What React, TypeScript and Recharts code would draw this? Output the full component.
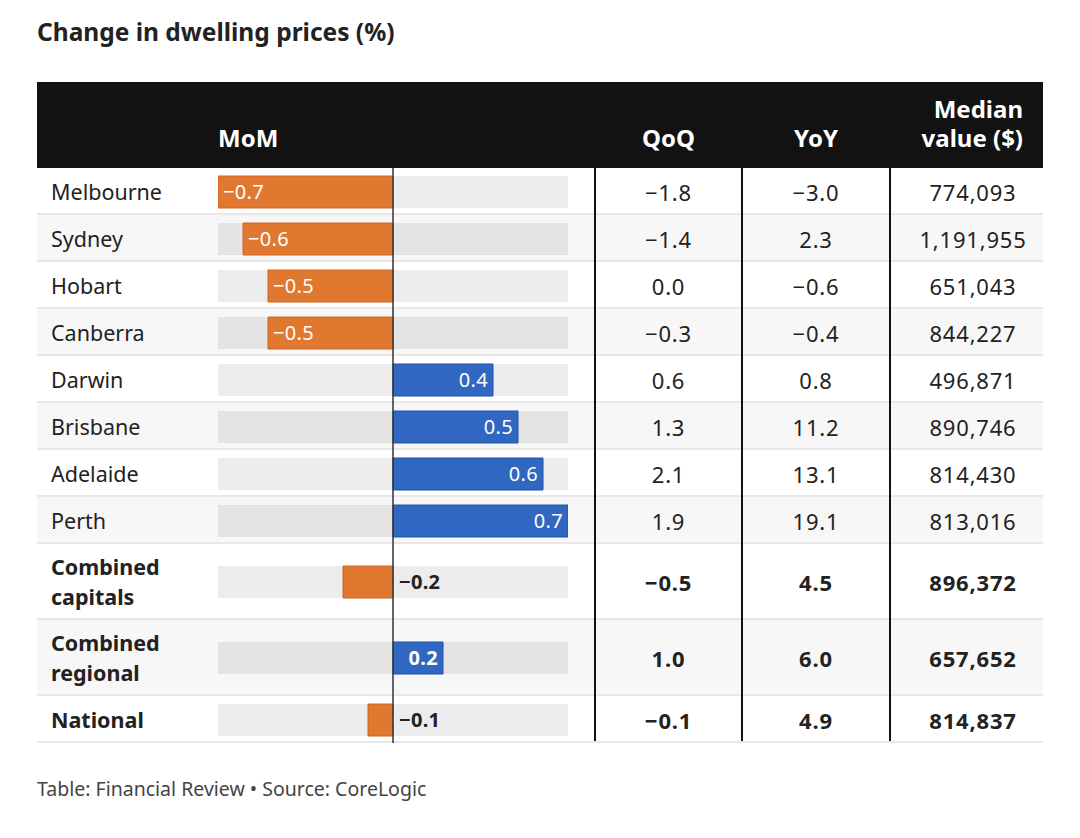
import React from 'react';
import { BarChart, Bar, XAxis, YAxis, ReferenceLine } from 'recharts';

const regions = ['Melbourne', 'Sydney', 'Hobart', 'Canberra', 'Darwin', 'Brisbane', 'Adelaide', 'Perth', 'Combined capitals', 'Combined regional', 'National'];
const momChange = [-0.7, -0.6, -0.5, -0.5, 0.4, 0.5, 0.6, 0.7, -0.2, 0.2, -0.1];
const qoqChange = [-1.8, -1.4, 0.0, -0.3, 0.6, 1.3, 2.1, 1.9, -0.5, 1.0, -0.1];
const yoyChange = [-3.0, 2.3, -0.6, -0.4, 0.8, 11.2, 13.1, 19.1, 4.5, 6.0, 4.9];
const medianValue = [774093, 1191955, 651043, 844227, 496871, 890746, 814430, 813016, 896372, 657652, 814837];
const summaryRows = ['Combined capitals', 'Combined regional', 'National'];
const headers = ['MoM', 'QoQ', 'YoY', 'Median value ($)'];
const title = 'Change in dwelling prices (%)';
const footer = 'Table: Financial Review • Source: CoreLogic';

const FONT = '"Noto Sans", "Open Sans", sans-serif';
const NEG = '#e07830';
const NEG_STROKE = '#d06622';
const POS = '#2f67c1';
const POS_STROKE = '#1f52a8';

const TABLE_LEFT = 37;
const TABLE_RIGHT = 1043;
const HEADER_TOP = 82;
const HEADER_H = 86;
const BAR_LEFT = 218;
const BAR_W = 350;
const COL1 = 595;
const COL2 = 742;
const COL3 = 890;

const fmt = (v: number) => (v < 0 ? '\u2212' : '') + Math.abs(v).toFixed(1);
const fmtMoney = (v: number) => v.toLocaleString('en-US');

function makeLabel(bold: boolean) {
  return (props: any) => {
    const { x, y, width, height, value } = props;
    const left = Math.min(x, x + width);
    const right = Math.max(x, x + width);
    const zero = value < 0 ? right : left;
    const cy = y + height / 2;
    const w = right - left;
    let tx: number;
    let anchor: 'start' | 'end';
    let fill = '#fff';
    if (value < 0) {
      if (w > 60) {
        tx = left + 5;
        anchor = 'start';
      } else {
        tx = zero + 6;
        anchor = 'start';
        fill = '#222';
      }
    } else {
      tx = right - 5;
      anchor = 'end';
    }
    return (
      <text x={tx} y={cy} dy="0.36em" textAnchor={anchor} fill={fill}
        style={{ fontFamily: FONT, fontSize: 20, fontWeight: bold ? 700 : 400, letterSpacing: 0.3 }}>
        {fmt(value)}
      </text>
    );
  };
}

function RowChart({ value, height, bold }: { value: number; height: number; bold: boolean }) {
  const data = [{ name: 'v', v: value }];
  return (
    <BarChart width={BAR_W} height={height} data={data} layout="vertical"
      margin={{ top: 0, right: 0, bottom: 0, left: 0 }} barCategoryGap={0}>
      <XAxis type="number" domain={[-0.7, 0.7]} hide allowDataOverflow />
      <YAxis type="category" dataKey="name" hide />
      <Bar dataKey="v" barSize={32} isAnimationActive={false}
        background={{ fill: 'rgba(0,0,0,0.075)' }}
        fill={value < 0 ? NEG : POS}
        stroke={value < 0 ? NEG_STROKE : POS_STROKE} strokeWidth={1}
        label={makeLabel(bold)} />
      <ReferenceLine x={0} stroke="#333" strokeWidth={1.5} ifOverflow="extendDomain" />
    </BarChart>
  );
}

export default function App() {
  let top = HEADER_TOP + HEADER_H;
  const rows = regions.map((name, i) => {
    const bold = summaryRows.includes(name);
    const twoLine = bold && name.includes(' ');
    const h = twoLine ? 76 : 47;
    const rowTop = top;
    top += h;
    const cellText: React.CSSProperties = {
      position: 'absolute', top: 0, height: h, display: 'flex', alignItems: 'center',
      fontSize: 21.5, fontWeight: bold ? 700 : 400, color: '#222',
    };
    const numText: React.CSSProperties = { ...cellText, fontSize: 22, letterSpacing: 0.8 };
    return (
      <div key={name} style={{
        position: 'absolute', left: TABLE_LEFT, top: rowTop, width: TABLE_RIGHT - TABLE_LEFT, height: h,
        background: i % 2 === 1 ? '#f7f7f7' : '#fff', borderBottom: '2px solid #e8e8e8', boxSizing: 'border-box',
      }}>
        <div style={{ ...cellText, left: 14, lineHeight: '30px' }}>
          {twoLine ? <span>{name.split(' ')[0]}<br />{name.split(' ').slice(1).join(' ')}</span> : name}
        </div>
        <div style={{ position: 'absolute', left: BAR_LEFT - TABLE_LEFT, top: 0 }}>
          <RowChart value={momChange[i]} height={h} bold={bold} />
        </div>
        <div style={{ ...numText, left: COL1 - TABLE_LEFT, width: COL2 - COL1, justifyContent: 'center' }}>{fmt(qoqChange[i])}</div>
        <div style={{ ...numText, left: COL2 - TABLE_LEFT, width: COL3 - COL2, justifyContent: 'center' }}>{fmt(yoyChange[i])}</div>
        <div style={{ ...numText, left: 903 - TABLE_LEFT, width: 140, justifyContent: 'center' }}>{fmtMoney(medianValue[i])}</div>
      </div>
    );
  });
  const tableBottom = top;

  const headStyle: React.CSSProperties = {
    position: 'absolute', color: '#fff', fontWeight: 700, fontSize: 24, lineHeight: '29px',
  };

  return (
    <div style={{ position: 'absolute', left: 0, top: 0, width: 1080, height: 838, background: '#fff', fontFamily: FONT, overflow: 'hidden' }}>
      <div style={{ position: 'absolute', left: 37, top: 15, fontSize: 24.5, fontWeight: 700, color: '#222' }}>{title}</div>
      <div style={{ position: 'absolute', left: TABLE_LEFT, top: HEADER_TOP, width: TABLE_RIGHT - TABLE_LEFT, height: HEADER_H, background: '#121212' }}>
        <div style={{ ...headStyle, left: BAR_LEFT - TABLE_LEFT, top: 41 }}>{headers[0]}</div>
        <div style={{ ...headStyle, left: COL1 - TABLE_LEFT, width: COL2 - COL1, textAlign: 'center', top: 41 }}>{headers[1]}</div>
        <div style={{ ...headStyle, left: COL2 - TABLE_LEFT, width: COL3 - COL2, textAlign: 'center', top: 41 }}>{headers[2]}</div>
        <div style={{ ...headStyle, right: 20, width: 130, textAlign: 'right', top: 12 }}>{headers[3]}</div>
      </div>
      {rows}
      {[COL1, COL2, COL3].map((x) => (
        <div key={x} style={{ position: 'absolute', left: x - 1, top: HEADER_TOP + HEADER_H, width: 2, height: tableBottom - HEADER_TOP - HEADER_H - 2, background: '#111' }} />
      ))}
      <div style={{ position: 'absolute', left: 37, top: 775, fontSize: 19.5, color: '#444' }}>{footer}</div>
    </div>
  );
}
